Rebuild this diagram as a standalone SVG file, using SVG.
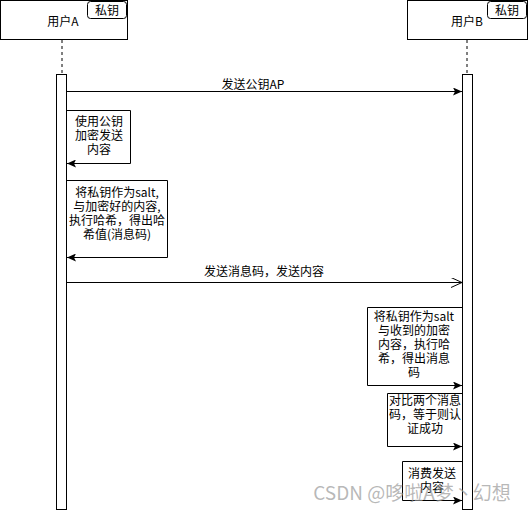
<svg xmlns="http://www.w3.org/2000/svg" width="528" height="511" viewBox="0 0 528 511">
<defs>
<marker id="block" markerWidth="10" markerHeight="8" refX="9" refY="4" orient="auto" markerUnits="userSpaceOnUse"><path d="M0,0 L9,4 L0,8 L2,4 Z" fill="#000"/></marker>
<marker id="open" markerWidth="12" markerHeight="10" refX="11" refY="5" orient="auto" markerUnits="userSpaceOnUse"><path d="M0,0 L11,5 L0,10" fill="none" stroke="#000" stroke-width="1"/></marker>
</defs>
<style>
.box{fill:#fff;stroke:#000;stroke-width:1}
.t{font-family:"Noto Sans CJK SC","Liberation Sans",sans-serif;font-size:12px;fill:#000;text-anchor:middle}
.ln{fill:none;stroke:#000;stroke-width:1}
.dash{fill:none;stroke:#000;stroke-width:1;stroke-dasharray:3,3}
</style>
<rect width="528" height="511" fill="#fff"/>
<g id="userA">
<rect class="box" x="0.5" y="0.5" width="127" height="39"/>
<text class="t" x="63" y="26">用户A</text>
<rect class="box" x="87.5" y="1.5" width="39" height="17" rx="3"/>
<text class="t" x="107" y="15">私钥</text>
<line class="dash" x1="62" y1="40" x2="62" y2="74"/>
<rect class="box" x="56.5" y="74.5" width="10" height="435"/>
</g>
<g id="userB">
<rect class="box" x="407.5" y="0.5" width="120" height="39"/>
<text class="t" x="467" y="26">用户B</text>
<rect class="box" x="487.5" y="1.5" width="39" height="17" rx="3"/>
<text class="t" x="507" y="15">私钥</text>
<line class="dash" x1="467" y1="40" x2="467" y2="74"/>
<rect class="box" x="462.5" y="74.5" width="10" height="435"/>
</g>
<g id="connectors">
<line class="ln" x1="67" y1="91.5" x2="462" y2="91.5" marker-end="url(#block)"/>
<rect x="220" y="78" width="66" height="13" fill="#fff"/>
<text class="t" x="253" y="89">发送公钥AP</text>
<path class="ln" d="M67,110.5 H130.5 V163.5 H67" marker-end="url(#block)"/>
<text class="t" x="99" y="126">使用公钥</text>
<text class="t" x="99" y="140">加密发送</text>
<text class="t" x="99" y="154">内容</text>
<path class="ln" d="M67,180.5 H167.5 V257.5 H67" marker-end="url(#block)"/>
<text class="t" x="117" y="197">将私钥作为salt,</text>
<text class="t" x="117" y="211">与加密好的内容,</text>
<text class="t" x="117" y="225">执行哈希，得出哈</text>
<text class="t" x="117" y="239">希值(消息码)</text>
<line class="ln" x1="67" y1="282.5" x2="462" y2="282.5" marker-end="url(#open)"/>
<text class="t" x="264" y="276">发送消息码，发送内容</text>
<path class="ln" d="M462,307.5 H367.5 V385.5 H462" marker-end="url(#block)"/>
<text class="t" x="414" y="321">将私钥作为salt</text>
<text class="t" x="414" y="335">与收到的加密</text>
<text class="t" x="414" y="349">内容，执行哈</text>
<text class="t" x="414" y="363">希，得出消息</text>
<text class="t" x="414" y="377">码</text>
<path class="ln" d="M462,393.5 H387.5 V446.5 H462" marker-end="url(#block)"/>
<text class="t" x="425" y="405">对比两个消息</text>
<text class="t" x="425" y="419">码，等于则认</text>
<text class="t" x="425" y="433">证成功</text>
<path class="ln" d="M462,461.5 H402.5 V500.5 H462" marker-end="url(#block)"/>
<text class="t" x="432" y="478">消费发送</text>
<text class="t" x="432" y="492">内容</text>
</g>
<text x="412" y="500" font-family="'Noto Sans CJK SC','Liberation Sans',sans-serif" font-size="19" fill="#999" fill-opacity="0.7" text-anchor="middle">CSDN @哆啦A梦丶幻想</text>
</svg>
